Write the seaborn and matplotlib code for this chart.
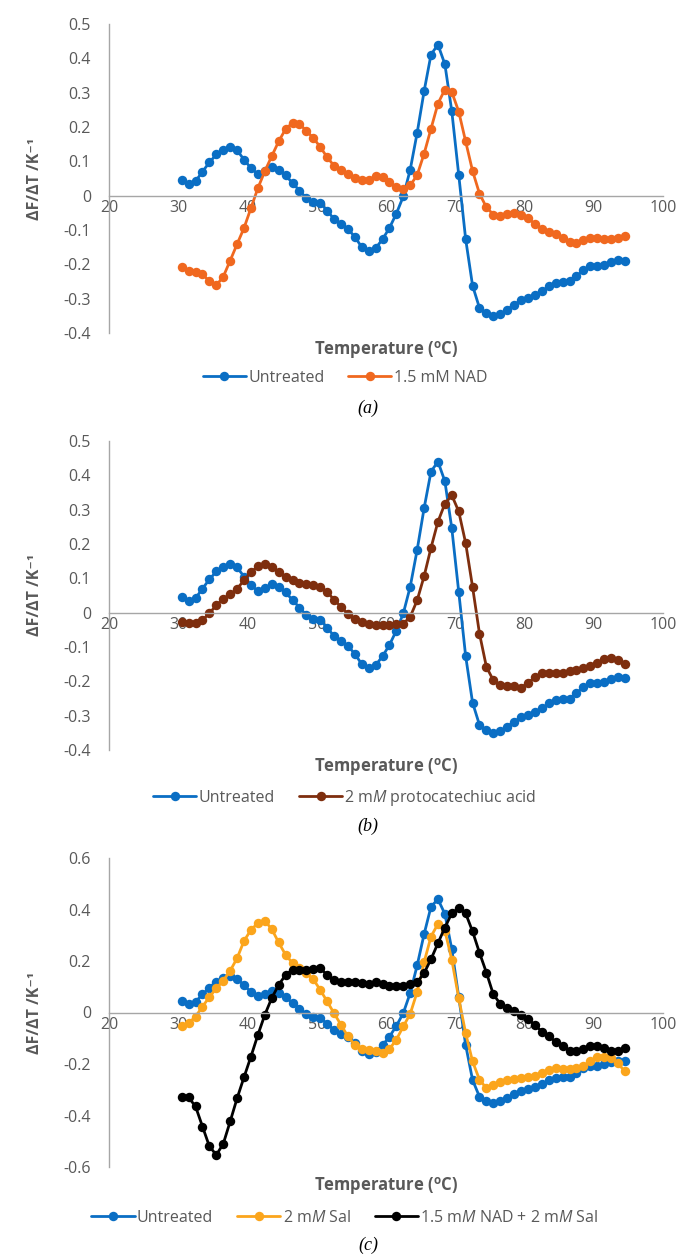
import numpy as np
import pandas as pd
import seaborn as sns
import matplotlib
matplotlib.use('Agg')
import matplotlib.pyplot as plt
from matplotlib.ticker import MultipleLocator, FuncFormatter

# melt-curve derivative data (1 degC steps)
temperature = [30.5, 31.5, 32.5, 33.5, 34.5, 35.5, 36.5, 37.5, 38.5, 39.5,
               40.5, 41.5, 42.5, 43.5, 44.5, 45.5, 46.5, 47.5, 48.5, 49.5,
               50.5, 51.5, 52.5, 53.5, 54.5, 55.5, 56.5, 57.5, 58.5, 59.5,
               60.5, 61.5, 62.5, 63.5, 64.5, 65.5, 66.5, 67.5, 68.5, 69.5,
               70.5, 71.5, 72.5, 73.5, 74.5, 75.5, 76.5, 77.5, 78.5, 79.5,
               80.5, 81.5, 82.5, 83.5, 84.5, 85.5, 86.5, 87.5, 88.5, 89.5,
               90.5, 91.5, 92.5, 93.5, 94.5]

untreated = [0.045, 0.034, 0.042, 0.070, 0.097, 0.120, 0.133, 0.141, 0.132, 0.105,
             0.080, 0.063, 0.071, 0.083, 0.076, 0.059, 0.037, 0.015, -0.007, -0.017,
             -0.021, -0.044, -0.068, -0.082, -0.097, -0.120, -0.150, -0.162, -0.153, -0.127,
             -0.094, -0.052, -0.002, 0.076, 0.183, 0.304, 0.411, 0.440, 0.383, 0.246,
             0.061, -0.126, -0.262, -0.327, -0.342, -0.351, -0.345, -0.332, -0.317, -0.305,
             -0.298, -0.288, -0.279, -0.264, -0.254, -0.251, -0.250, -0.235, -0.216, -0.206,
             -0.206, -0.201, -0.193, -0.187, -0.189]

nad = [-0.209, -0.218, -0.222, -0.228, -0.250, -0.261, -0.236, -0.189, -0.141, -0.094,
       -0.036, 0.022, 0.071, 0.115, 0.158, 0.194, 0.212, 0.209, 0.189, 0.168,
       0.142, 0.112, 0.087, 0.074, 0.063, 0.050, 0.045, 0.047, 0.056, 0.054,
       0.039, 0.025, 0.018, 0.030, 0.060, 0.122, 0.195, 0.268, 0.309, 0.302,
       0.245, 0.158, 0.072, 0.006, -0.034, -0.055, -0.060, -0.052, -0.050, -0.056,
       -0.066, -0.082, -0.096, -0.105, -0.113, -0.122, -0.135, -0.137, -0.130, -0.124,
       -0.124, -0.127, -0.127, -0.124, -0.118]

protocatechuic = [-0.027, -0.030, -0.030, -0.022, -0.001, 0.021, 0.041, 0.053, 0.070, 0.094,
                  0.118, 0.135, 0.143, 0.133, 0.118, 0.104, 0.096, 0.086, 0.083, 0.080,
                  0.075, 0.060, 0.038, 0.017, -0.003, -0.017, -0.027, -0.032, -0.035, -0.035,
                  -0.037, -0.034, -0.032, -0.012, 0.036, 0.106, 0.189, 0.265, 0.317, 0.342,
                  0.295, 0.203, 0.075, -0.061, -0.158, -0.197, -0.212, -0.215, -0.215, -0.218,
                  -0.205, -0.188, -0.177, -0.175, -0.176, -0.176, -0.171, -0.167, -0.162, -0.155,
                  -0.146, -0.135, -0.133, -0.139, -0.149]

sal = [-0.054, -0.041, -0.016, 0.023, 0.060, 0.094, 0.124, 0.162, 0.211, 0.278,
       0.321, 0.347, 0.356, 0.324, 0.272, 0.224, 0.192, 0.172, 0.153, 0.129,
       0.088, 0.043, -0.003, -0.048, -0.093, -0.126, -0.142, -0.145, -0.148, -0.158,
       -0.142, -0.105, -0.054, -0.005, 0.080, 0.195, 0.295, 0.344, 0.318, 0.205,
       0.056, -0.080, -0.190, -0.261, -0.294, -0.282, -0.270, -0.263, -0.259, -0.255,
       -0.251, -0.245, -0.234, -0.223, -0.217, -0.218, -0.221, -0.216, -0.206, -0.190,
       -0.172, -0.172, -0.178, -0.198, -0.229]

nad_sal = [-0.330, -0.330, -0.365, -0.443, -0.520, -0.553, -0.510, -0.423, -0.333, -0.251,
           -0.171, -0.087, -0.009, 0.056, 0.107, 0.146, 0.166, 0.166, 0.166, 0.168,
           0.172, 0.146, 0.127, 0.120, 0.118, 0.120, 0.114, 0.111, 0.120, 0.111,
           0.104, 0.101, 0.103, 0.110, 0.117, 0.153, 0.207, 0.269, 0.330, 0.385,
           0.405, 0.385, 0.315, 0.232, 0.155, 0.070, 0.034, 0.017, 0.004, -0.009,
           -0.026, -0.048, -0.074, -0.093, -0.113, -0.129, -0.148, -0.148, -0.142, -0.132,
           -0.129, -0.138, -0.148, -0.151, -0.138]

BLUE = '#0A6EC4'
ORANGE = '#F0681F'
BROWN = '#7E2E0E'
AMBER = '#FBA51C'
BLACK = '#000000'

sns.set_style('white')
plt.rcParams['font.family'] = ['Open Sans', 'DejaVu Sans']
plt.rcParams['mathtext.fontset'] = 'custom'
plt.rcParams['mathtext.rm'] = 'Open Sans'
plt.rcParams['mathtext.it'] = 'Open Sans:italic'
plt.rcParams['mathtext.bf'] = 'Open Sans:bold'

AXIS_GREY = '#A6A6A6'
TEXT_GREY = '#595959'

fig = plt.figure(figsize=(6.77, 12.55), dpi=100)

W, H = 677, 1255
left, right = 109, 663

panels = [
    dict(top=24, bottom=333, series=[('Untreated', untreated, BLUE), ('1.5 mM NAD', nad, ORANGE)],
         ylim=(-0.4, 0.5), ystep=0.1, xl=350, lg=378, cap=408, caption='(a)'),
    dict(top=441, bottom=750, series=[('Untreated', untreated, BLUE),
                                      (r'2 m$\mathit{M}$ protocatechiuc acid', protocatechuic, BROWN)],
         ylim=(-0.4, 0.5), ystep=0.1, xl=767, lg=798, cap=826, caption='(b)'),
    dict(top=858, bottom=1167, series=[('Untreated', untreated, BLUE),
                                       (r'2 m$\mathit{M}$ Sal', sal, AMBER),
                                       (r'1.5 m$\mathit{M}$ NAD + 2 m$\mathit{M}$ Sal', nad_sal, BLACK)],
         ylim=(-0.6, 0.6), ystep=0.2, xl=1186, lg=1218, cap=1245, caption='(c)'),
]


def fmt(v, pos):
    s = f'{v:.1f}'
    if s in ('0.0', '-0.0'):
        return '0'
    return s


for p in panels:
    ax = fig.add_axes([left / W, 1 - p['bottom'] / H, (right - left) / W, (p['bottom'] - p['top']) / H])
    frames = [pd.DataFrame({'T': temperature, 'v': vals, 'name': name}) for name, vals, _ in p['series']]
    df = pd.concat(frames, ignore_index=True)
    names = [s[0] for s in p['series']]
    colors = [s[2] for s in p['series']]
    sns.lineplot(data=df, x='T', y='v', hue='name', hue_order=names, palette=colors,
                 marker='o', markersize=6.8, markeredgewidth=0, linewidth=2.0,
                 estimator=None, sort=False, legend=False, ax=ax)

    ax.set_xlim(20, 100)
    ax.set_ylim(*p['ylim'])
    ax.xaxis.set_major_locator(MultipleLocator(10))
    ax.yaxis.set_major_locator(MultipleLocator(p['ystep']))
    ax.yaxis.set_major_formatter(FuncFormatter(fmt))
    ax.set_xlabel('')
    ax.set_ylabel('')
    ax.spines['top'].set_visible(False)
    ax.spines['right'].set_visible(False)
    ax.spines['bottom'].set_position(('data', 0))
    for sp in ('left', 'bottom'):
        ax.spines[sp].set_color(AXIS_GREY)
        ax.spines[sp].set_linewidth(1.0)
    ax.tick_params(axis='both', length=0, labelsize=11.5, colors=TEXT_GREY)
    ax.tick_params(axis='y', pad=13)
    ax.tick_params(axis='x', pad=3)
    ax.set_facecolor('none')

    yc = 1 - (p['top'] + p['bottom']) / 2 / H
    fig.text(35 / W, yc, 'ΔF/ΔT /K⁻¹', rotation=90, ha='center', va='center',
             fontsize=11.5, fontweight='bold', color=TEXT_GREY)
    fig.text((left + right) / 2 / W, 1 - p['xl'] / H, r'Temperature ($^{\mathbf{o}}$C)',
             ha='center', va='center', fontsize=12, fontweight='bold', color=TEXT_GREY)

    handles = ax.get_lines()[:len(names)]
    fig.legend(handles, names, loc='center', bbox_to_anchor=(345 / W, 1 - p['lg'] / H),
               ncol=len(names), frameon=False, fontsize=11.5, labelcolor=TEXT_GREY,
               handlelength=2.7, handletextpad=0.15, columnspacing=1.5,
               borderpad=0, borderaxespad=0)

    fig.text(368 / W, 1 - p['cap'] / H, p['caption'], ha='center', va='center',
             fontsize=13, family='Liberation Serif', style='italic', color='black')

fig.savefig('out.png', dpi=100)
